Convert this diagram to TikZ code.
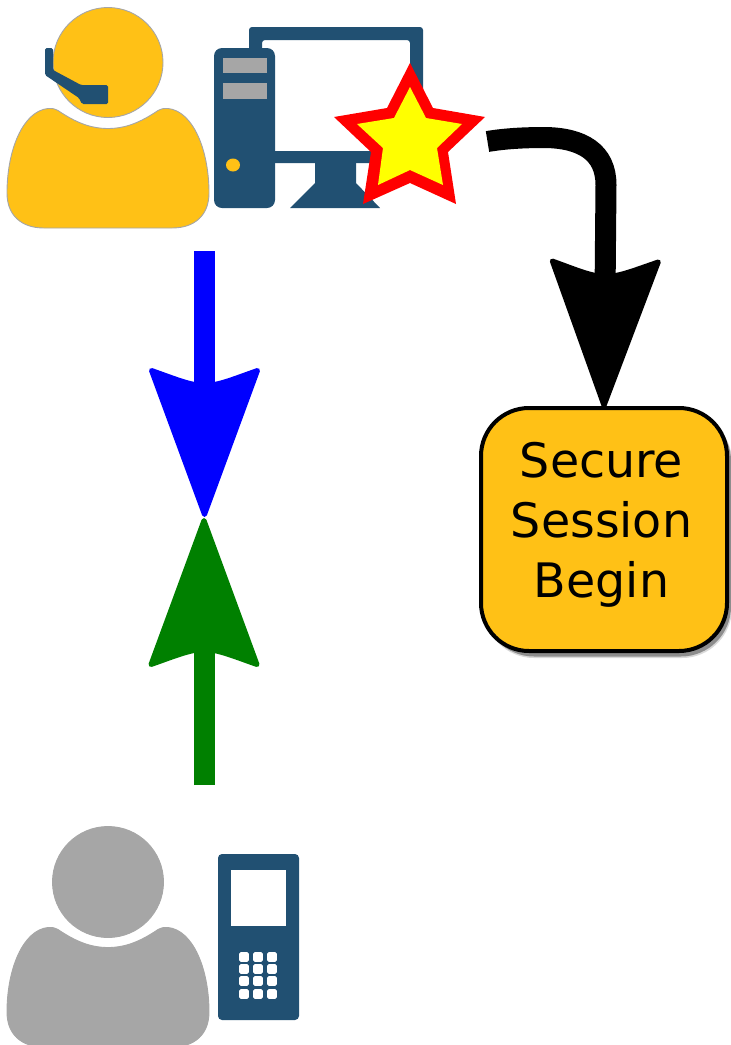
\documentclass[tikz,border=0pt]{standalone}
\usepackage{fontspec}
\setmainfont{DejaVu Sans}
\usetikzlibrary{arrows.meta}
\definecolor{amber}{HTML}{FFC116}
\definecolor{navy}{HTML}{215072}
\definecolor{greyp}{HTML}{A6A6A6}
\definecolor{staryellow}{HTML}{FFFF00}
\pgfdeclarearrow{
  name=BigHead,
  setup code={
    \pgfarrowssettipend{0pt}
    \pgfarrowssetlineend{-120pt}
    \pgfarrowssetvisualbackend{-140pt}
    \pgfarrowssetbackend{-150pt}
  },
  drawing code={
    \pgfsetlinewidth{5pt}
    \pgfsetroundjoin
    \pgfpathmoveto{\pgfqpoint{-2.5pt}{0pt}}
    \pgfpathlineto{\pgfqpoint{-146.5pt}{-53pt}}
    \pgfpathcurveto{\pgfqpoint{-138.5pt}{-30pt}}{\pgfqpoint{-131.5pt}{-14pt}}{\pgfqpoint{-131.5pt}{0pt}}
    \pgfpathcurveto{\pgfqpoint{-131.5pt}{14pt}}{\pgfqpoint{-138.5pt}{30pt}}{\pgfqpoint{-146.5pt}{53pt}}
    \pgfpathclose
    \pgfusepathqfillstroke
  }
}
\tikzset{
  conn/.style={line width=21pt,-{BigHead}},
  headp/.style={line width=0.9pt,draw=greyp},
  navyfill/.style={fill=navy},
}
\newcommand{\personbody}{(58,110.5) .. controls (75,122) and (90,128.5) .. (108,128.5)
   .. controls (126,128.5) and (141,122) .. (158,110.5)
   .. controls (162,108.5) and (165,108) .. (168,108.5)
   .. controls (193,111) and (209,150) .. (209,193)
   .. controls (209,215) and (195,228) .. (172,228)
   -- (44,228)
   .. controls (21,228) and (7,215) .. (7,193)
   .. controls (7,150) and (23,111) .. (48,108.5)
   .. controls (51,108) and (54,108.5) .. (58,110.5) -- cycle}
\begin{document}
\begin{tikzpicture}[x=1pt,y=-1pt]
\useasboundingbox (0,0) rectangle (731,1045);
\clip (0,0) rectangle (731,1045);
% agent
\filldraw[headp,fill=amber] (108,62.5) circle[radius=55];
\filldraw[headp,fill=amber] \personbody;
\fill[navyfill,rounded corners=1.5pt] (45,48) -- (53,48) -- (53,70) -- (81,85) -- (108,85) -- (108,104) -- (82,104) -- (79,98) -- (45,75) -- cycle;
% monitor
\fill[navyfill,even odd rule,rounded corners=3pt] (249,27) rectangle (423,163) (262,40) rectangle (410,151);
\fill[navyfill] (315,163) -- (356,163) -- (356,183) -- (380,208) -- (290,208) -- (315,183) -- cycle;
% tower
\fill[navyfill,rounded corners=8pt] (214,48) rectangle (275,208);
\fill[greyp] (223,58) rectangle (267,73);
\fill[greyp] (223,83) rectangle (267,99);
\fill[amber] (233,165) ellipse[x radius=7,y radius=6.5];
% star
\fill[red] (410,63) -- (433,108) -- (485,117) -- (448,152) -- (456,204) -- (410,183) -- (363,204) -- (371,152) -- (334,117) -- (387,108) -- cycle;
\fill[staryellow] (410,87) -- (426,118) -- (462,124) -- (437,148) -- (443,185) -- (410,170) -- (378,185) -- (383,148) -- (357,124) -- (394,118) -- cycle;
% secure session box
\fill[black,opacity=.15,rounded corners=50pt] (484,412) rectangle (732,658);
\fill[black,opacity=.35,rounded corners=50pt] (484,411) rectangle (731,656.5);
\node[draw=black,fill=amber,line width=4pt,rounded corners=48pt,minimum width=246pt,minimum height=243pt,inner sep=0pt,outer sep=0pt] (box) at (604,529.5) {};
\node[inner sep=0pt,align=center,font=\fontsize{47.5}{60}\selectfont] (boxtext) at (601.5,525) {Secure\\Session\\Begin};
% user
\filldraw[headp,fill=greyp] (108,882) circle[radius=55.5];
\begin{scope}[yshift=-819pt]
\filldraw[headp,fill=greyp] \personbody;
\end{scope}
% phone
\fill[navyfill,rounded corners=4pt] (218,854) rectangle (299,1020);
\fill[white] (231,870) rectangle (286,926);
\foreach \kx in {244,258,272}
  \foreach \ky in {957,969,981,994}
    \fill[white,rounded corners=1.5pt] (\kx-4.8,\ky-4.8) rectangle (\kx+4.8,\ky+4.8);
% connector ends
\coordinate (agentout) at (204.5,251);
\coordinate (meet1) at (204.5,517);
\coordinate (userout) at (204,785);
\coordinate (meet2) at (204,518);
\coordinate (starout) at (487.5,141.5);
\draw[conn,blue] (agentout) -- (meet1);
\draw[conn,green!50!black] (userout) -- (meet2);
\draw[conn,black] (starout) .. controls (505,138.5) and (525,137.5) .. (545,137.5)
  .. controls (582,138) and (606,152) .. (606,185) -- (box.north);
\end{tikzpicture}
\end{document}
